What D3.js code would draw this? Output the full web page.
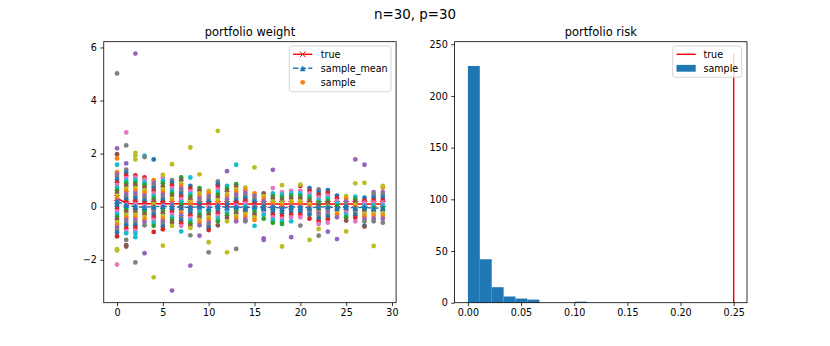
<!DOCTYPE html>
<html>
<head>
<meta charset="utf-8">
<script src="https://cdn.jsdelivr.net/npm/d3@7"></script>
<style>
  body { margin: 0; background: #fff; }
  svg { display: block; font-family: "DejaVu Sans", sans-serif; }
</style>
</head>
<body>
<div id="chart"></div>
<script>
// ---- data ----
const assetIdx = d3.range(30);

const trueWeight = [0.33, 0.12, 0.11, 0.11, 0.11, 0.11, 0.11, 0.11, 0.1, 0.1,
  0.1, 0.1, 0.1, 0.1, 0.1, 0.1, 0.1, 0.1, 0.1, 0.1,
  0.1, 0.1, 0.1, 0.1, 0.1, 0.1, 0.1, 0.1, 0.1, 0.1];

const meanWeight = [0.2, 0.06, 0.0, -0.02, 0.0, 0.02, 0.0, -0.02, -0.03, 0.0,
  -0.05, 0.02, -0.02, 0.0, -0.04, 0.0, -0.05, -0.01, -0.06, 0.0,
  -0.03, -0.04, -0.02, 0.0, -0.05, -0.02, -0.04, -0.02, -0.06, -0.04];

// dense part of each column (one array per asset)
const coreWeight = [
  [1.3, 1.22, 1.12, 1.02, 0.92, 0.82, 0.72, 0.62, 0.52, 0.42, 0.32, 0.22, 0.12, 0.02, -0.08, -0.18, -0.28, -0.38, -0.48, -0.58, -0.68, -0.78, -0.88, -0.98, -1.12],
  [1.4, 1.28, 1.18, 1.08, 0.98, 0.88, 0.78, 0.68, 0.58, 0.48, 0.38, 0.28, 0.18, 0.08, 0.0, -0.1, -0.2, -0.3, -0.4, -0.5, -0.6, -0.7, -0.82, -0.92, -1.0],
  [1.18, 1.1, 1.0, 0.9, 0.8, 0.7, 0.6, 0.5, 0.4, 0.3, 0.2, 0.1, 0.0, -0.1, -0.2, -0.3, -0.4, -0.5, -0.6, -0.7, -0.8, -0.9, -1.0],
  [1.1, 1.02, 0.92, 0.82, 0.72, 0.62, 0.52, 0.42, 0.32, 0.22, 0.12, 0.02, -0.08, -0.18, -0.28, -0.38, -0.48, -0.58, -0.7],
  [1.0, 0.9, 0.8, 0.7, 0.6, 0.5, 0.4, 0.3, 0.2, 0.1, 0.0, -0.1, -0.2, -0.3, -0.4, -0.5, -0.6, -0.72],
  [1.1, 0.98, 0.88, 0.75, 0.65, 0.55, 0.45, 0.35, 0.25, 0.15, 0.05, -0.05, -0.15, -0.25, -0.35, -0.45, -0.55, -0.65, -0.75, -0.85],
  [1.0, 0.9, 0.8, 0.7, 0.6, 0.5, 0.4, 0.3, 0.2, 0.1, 0.0, -0.1, -0.2, -0.3, -0.4, -0.5, -0.6, -0.72],
  [1.1, 1.0, 0.88, 0.78, 0.68, 0.58, 0.48, 0.38, 0.28, 0.18, 0.08, -0.02, -0.12, -0.22, -0.32, -0.42, -0.52, -0.62, -0.72],
  [0.78, 0.68, 0.58, 0.48, 0.38, 0.28, 0.18, 0.08, -0.02, -0.12, -0.22, -0.32, -0.42, -0.52, -0.62, -0.72, -0.8],
  [0.7, 0.6, 0.5, 0.4, 0.3, 0.2, 0.1, 0.0, -0.1, -0.2, -0.3, -0.4, -0.5, -0.6, -0.7],
  [0.6, 0.5, 0.4, 0.3, 0.2, 0.1, 0.0, -0.1, -0.2, -0.3, -0.4, -0.5, -0.6, -0.7, -0.8, -0.88],
  [0.95, 0.85, 0.75, 0.65, 0.55, 0.45, 0.35, 0.25, 0.15, 0.05, -0.05, -0.15, -0.25, -0.35, -0.45, -0.55, -0.7],
  [0.78, 0.68, 0.58, 0.48, 0.38, 0.28, 0.18, 0.08, -0.02, -0.12, -0.22, -0.32, -0.42, -0.55],
  [0.85, 0.75, 0.65, 0.55, 0.45, 0.35, 0.25, 0.15, 0.05, -0.05, -0.15, -0.25, -0.35, -0.45, -0.55],
  [0.72, 0.62, 0.52, 0.42, 0.32, 0.22, 0.12, 0.02, -0.08, -0.18, -0.28, -0.38, -0.48, -0.55],
  [0.5, 0.4, 0.3, 0.2, 0.1, 0.0, -0.1, -0.2, -0.3, -0.4, -0.5],
  [0.5, 0.4, 0.3, 0.2, 0.1, 0.0, -0.1, -0.2, -0.3, -0.45],
  [0.7, 0.5, 0.4, 0.3, 0.2, 0.1, 0.0, -0.1, -0.2, -0.3, -0.4, -0.5, -0.6],
  [0.55, 0.45, 0.35, 0.25, 0.15, 0.05, -0.05, -0.15, -0.25, -0.35, -0.45, -0.55, -0.65],
  [0.6, 0.5, 0.4, 0.3, 0.2, 0.1, 0.0, -0.1, -0.2, -0.3, -0.4, -0.55],
  [0.78, 0.6, 0.5, 0.4, 0.3, 0.2, 0.1, 0.0, -0.1, -0.2, -0.3, -0.4],
  [0.7, 0.6, 0.5, 0.4, 0.3, 0.2, 0.1, 0.0, -0.1, -0.2, -0.3, -0.45],
  [0.65, 0.55, 0.45, 0.35, 0.25, 0.15, 0.05, -0.05, -0.15, -0.25, -0.35, -0.45, -0.55, -0.65],
  [0.62, 0.52, 0.42, 0.32, 0.22, 0.12, 0.02, -0.08, -0.18, -0.28, -0.38, -0.48, -0.6],
  [0.42, 0.32, 0.22, 0.12, 0.02, -0.08, -0.18, -0.28, -0.4],
  [0.4, 0.3, 0.2, 0.1, 0.0, -0.1, -0.2, -0.3, -0.4, -0.52],
  [0.38, 0.28, 0.18, 0.08, -0.02, -0.12, -0.22, -0.32, -0.42, -0.55],
  [0.34, 0.24, 0.14, 0.04, -0.06, -0.16, -0.26, -0.36, -0.46, -0.56, -0.72],
  [0.55, 0.45, 0.35, 0.25, 0.15, 0.05, -0.05, -0.15, -0.25, -0.35, -0.45, -0.55],
  [0.72, 0.55, 0.45, 0.35, 0.25, 0.15, 0.05, -0.05, -0.15, -0.25, -0.35, -0.45, -0.6]
];

// isolated points: [asset, weight, colour index]
const outlierWeight = [
  [0, 5.02, 7], [0, 2.2, 4], [0, 1.98, 5], [0, 1.82, 1], [0, 1.58, 9], [0, -1.6, 8], [0, -1.65, 8], [0, -2.18, 6],
  [1, 2.8, 6], [1, 2.31, 7], [1, 1.63, 4], [1, -1.25, 7], [1, -1.45, 5], [1, -1.5, 5],
  [2, 5.77, 4], [2, 2.03, 8], [2, 1.93, 8], [2, 1.78, 8], [2, -1.15, 9], [2, -2.1, 7],
  [3, 1.92, 9], [3, 1.87, 7], [3, -1.75, 4],
  [4, 1.78, 0], [4, -0.95, 3], [4, -2.66, 8],
  [5, 1.2, 8], [5, -1.47, 8],
  [6, 1.6, 8], [6, -3.16, 4],
  [7, -0.93, 9],
  [8, 2.23, 8], [8, 1.1, 9], [8, -1.08, 7], [8, -2.22, 4],
  [9, 1.22, 8], [9, -1.09, 4],
  [10, -1.34, 8], [10, -1.72, 7],
  [11, 2.86, 8],
  [12, 1.34, 4], [12, -1.72, 8],
  [13, 1.58, 9], [13, -1.59, 7],
  [15, 1.48, 8], [15, -0.72, 9],
  [16, -1.19, 4], [16, -1.25, 4],
  [17, 1.39, 4],
  [18, 0.81, 8], [18, -1.5, 8],
  [19, -1.15, 4],
  [20, 0.83, 8], [20, -0.71, 7],
  [21, -1.25, 8],
  [22, -0.84, 8], [22, -1.09, 7],
  [23, -0.94, 4],
  [24, -1.22, 4],
  [25, -0.93, 8],
  [26, 1.78, 4], [26, 0.88, 8],
  [27, 1.58, 4], [27, 0.9, 8], [27, -0.75, 5],
  [28, -1.48, 8],
  [29, 0.78, 8]
];

// histogram of sample risk
const riskBinEdges = [0, 0.0112, 0.0224, 0.0336, 0.0448, 0.056, 0.0672, 0.0784, 0.0896, 0.1008, 0.112];
const riskCounts = [229, 42, 15, 6, 4, 3, 0, 0, 0, 1];
const trueRisk = 0.25;
const trueRiskTop = 240.45;

const weightTicksX = [0, 5, 10, 15, 20, 25, 30];
const weightTicksY = [-2, 0, 2, 4, 6];
const riskTicksX = [0, 0.05, 0.1, 0.15, 0.2, 0.25];
const riskTicksY = [0, 50, 100, 150, 200, 250];

const tab10 = ["#1f77b4", "#ff7f0e", "#2ca02c", "#d62728", "#9467bd",
  "#8c564b", "#e377c2", "#7f7f7f", "#bcbd22", "#17becf"];

// ---- layout ----
const W = 830, H = 346;
const plotTop = 41.7, plotBottom = 302.7;
const axL = {left: 103.75, right: 396.1};
const axR = {left: 454.6, right: 747};
const tickFont = 9.6;

const svg = d3.select("#chart").append("svg")
  .attr("width", W).attr("height", H);

svg.append("text")
  .attr("x", W / 2).attr("y", 18.5)
  .attr("text-anchor", "middle")
  .style("font-size", "13.4px")
  .text("n=30, p=30");

function minusFmt(f) {
  return d => f(d).replace("-", "\u2212");
}

function drawAxes(g, x, y, xt, yt, fmtX, fmtY, box) {
  const xAxis = d3.axisBottom(x).tickValues(xt).tickFormat(fmtX).tickSize(3.4).tickPadding(3.4);
  const yAxis = d3.axisLeft(y).tickValues(yt).tickFormat(fmtY).tickSize(3.4).tickPadding(3.4);
  const gx = g.append("g").attr("transform", `translate(0,${plotBottom})`).call(xAxis);
  const gy = g.append("g").attr("transform", `translate(${box.left},0)`).call(yAxis);
  [gx, gy].forEach(a => {
    a.select(".domain").remove();
    a.selectAll(".tick line").attr("stroke", "#000").attr("stroke-width", 0.8);
    a.selectAll(".tick text").attr("fill", "#000")
      .style("font-size", tickFont + "px")
      .style("font-family", "DejaVu Sans, sans-serif");
  });
  g.append("rect")
    .attr("x", box.left).attr("y", plotTop)
    .attr("width", box.right - box.left).attr("height", plotBottom - plotTop)
    .attr("fill", "none").attr("stroke", "#000").attr("stroke-width", 0.8);
}

// ---- left: portfolio weight ----
const x1 = d3.scaleLinear().domain([-1.45, 30.45]).range([axL.left, axL.right]);
const y1 = d3.scaleLinear().domain([-3.617, 6.217]).range([plotBottom, plotTop]);

const gL = svg.append("g");
svg.append("clipPath").attr("id", "clipL").append("rect")
  .attr("x", axL.left).attr("y", plotTop)
  .attr("width", axL.right - axL.left).attr("height", plotBottom - plotTop);

const plotL = gL.append("g").attr("clip-path", "url(#clipL)");
const lineT = d3.line().x((d, i) => x1(assetIdx[i])).y(d => y1(d));
const xMark = s => `M${-s},${-s}L${s},${s}M${-s},${s}L${s},${-s}`;
const triMark = s => `M0,${-s}L${-s},${s}L${s},${s}Z`;

// true weights: red line with x markers (sits under the sample dots)
plotL.append("path").datum(trueWeight)
  .attr("d", lineT).attr("fill", "none")
  .attr("stroke", "#ff0000").attr("stroke-width", 1.44);
plotL.selectAll("path.xm").data(trueWeight).enter().append("path")
  .attr("class", "xm")
  .attr("transform", (d, i) => `translate(${x1(assetIdx[i])},${y1(d)})`)
  .attr("d", xMark(2.9))
  .attr("stroke", "#ff0000").attr("stroke-width", 1).attr("fill", "none");

const dots = [];
let ci = 1;
coreWeight.forEach((vals, k) => {
  vals.forEach(v => {
    dots.push({i: k, w: v, c: tab10[ci % 10]});
    ci += 3;
  });
  ci += 1;
});
outlierWeight.forEach(o => dots.push({i: o[0], w: o[1], c: tab10[o[2]]}));

plotL.selectAll("circle.sample").data(dots).enter().append("circle")
  .attr("class", "sample")
  .attr("cx", d => x1(d.i))
  .attr("cy", d => y1(d.w))
  .attr("r", 2.4)
  .attr("fill", d => d.c);

// sample mean: dashed blue with triangles
plotL.append("path").datum(meanWeight)
  .attr("d", lineT).attr("fill", "none")
  .attr("stroke", tab10[0]).attr("stroke-width", 1.44)
  .attr("stroke-dasharray", "5.3,2.3");
plotL.selectAll("path.tm").data(meanWeight).enter().append("path")
  .attr("class", "tm")
  .attr("transform", (d, i) => `translate(${x1(assetIdx[i])},${y1(d)})`)
  .attr("d", triMark(2.9))
  .attr("fill", tab10[0]);

drawAxes(gL, x1, y1, weightTicksX, weightTicksY, d3.format("d"), minusFmt(d3.format("d")), axL);

gL.append("text")
  .attr("x", (axL.left + axL.right) / 2).attr("y", 36)
  .attr("text-anchor", "middle")
  .style("font-size", "11.5px")
  .text("portfolio weight");

// legend left
const legL = gL.append("g").attr("transform", "translate(289.3,46)");
legL.append("rect")
  .attr("width", 101.7).attr("height", 45.7).attr("rx", 2.7)
  .attr("fill", "#fff").attr("fill-opacity", 0.8)
  .attr("stroke", "#cccccc").attr("stroke-width", 0.8);
const rowsL = ["true", "sample_mean", "sample"];
rowsL.forEach((lab, r) => {
  const cy = 8.3 + r * 14;
  const row = legL.append("g").attr("transform", `translate(0,${cy})`);
  if (r === 0) {
    row.append("line").attr("x1", 3.8).attr("x2", 23).attr("stroke", "#ff0000").attr("stroke-width", 1.44);
    row.append("path").attr("transform", "translate(13.4,0)").attr("d", xMark(2.9))
      .attr("stroke", "#ff0000").attr("stroke-width", 1).attr("fill", "none");
  } else if (r === 1) {
    row.append("line").attr("x1", 3.8).attr("x2", 23).attr("stroke", tab10[0]).attr("stroke-width", 1.44)
      .attr("stroke-dasharray", "5.3,2.3");
    row.append("path").attr("transform", "translate(13.4,0)").attr("d", triMark(2.9)).attr("fill", tab10[0]);
  } else {
    row.append("circle").attr("cx", 13.4).attr("r", 2.4).attr("fill", tab10[1]);
  }
  row.append("text").attr("x", 31.5).attr("dy", "0.35em")
    .style("font-size", tickFont + "px").text(lab);
});

// ---- right: portfolio risk ----
const x2 = d3.scaleLinear().domain([-0.0125, 0.2625]).range([axR.left, axR.right]);
const y2 = d3.scaleLinear().domain([0, 252.47]).range([plotBottom, plotTop]);

const gR = svg.append("g");
const bins = riskCounts.map((c, i) => ({x0: riskBinEdges[i], x1: riskBinEdges[i + 1], n: c}));
gR.selectAll("rect.bar").data(bins).enter().append("rect")
  .attr("class", "bar")
  .attr("x", d => x2(d.x0))
  .attr("width", d => x2(d.x1) - x2(d.x0))
  .attr("y", d => y2(d.n))
  .attr("height", d => y2(0) - y2(d.n))
  .attr("fill", tab10[0]);

gR.append("line")
  .attr("x1", x2(trueRisk)).attr("x2", x2(trueRisk))
  .attr("y1", y2(0)).attr("y2", y2(trueRiskTop))
  .attr("stroke", "#ff0000").attr("stroke-width", 1.44);

drawAxes(gR, x2, y2, riskTicksX, riskTicksY, d3.format(".2f"), d3.format("d"), axR);

gR.append("text")
  .attr("x", (axR.left + axR.right) / 2).attr("y", 36)
  .attr("text-anchor", "middle")
  .style("font-size", "11.5px")
  .text("portfolio risk");

const legR = gR.append("g").attr("transform", "translate(672.7,46)");
legR.append("rect")
  .attr("width", 69).attr("height", 31.3).attr("rx", 2.7)
  .attr("fill", "#fff").attr("fill-opacity", 0.8)
  .attr("stroke", "#cccccc").attr("stroke-width", 0.8);
legR.append("line").attr("x1", 3.8).attr("x2", 23).attr("y1", 8.3).attr("y2", 8.3)
  .attr("stroke", "#ff0000").attr("stroke-width", 1.44);
legR.append("rect").attr("x", 3.8).attr("y", 22.3 - 3.4).attr("width", 19.2).attr("height", 6.8)
  .attr("fill", tab10[0]);
[["true", 8.3], ["sample", 22.3]].forEach(([lab, cy]) => {
  legR.append("text").attr("x", 30.7).attr("y", cy).attr("dy", "0.35em")
    .style("font-size", tickFont + "px").text(lab);
});
</script>
</body>
</html>
